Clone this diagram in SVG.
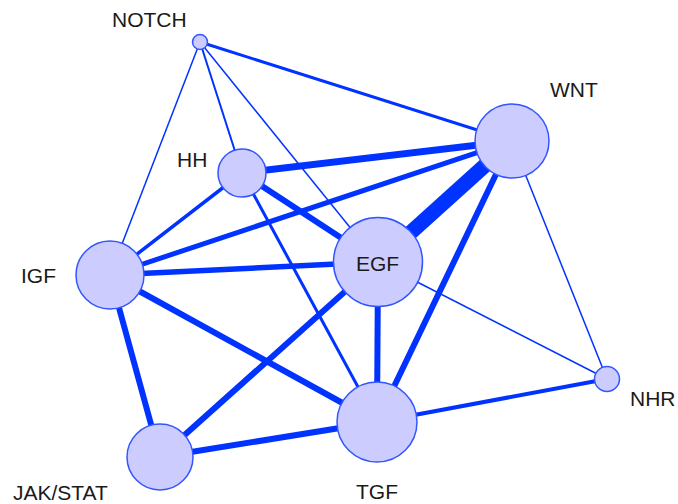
<svg xmlns="http://www.w3.org/2000/svg" width="678" height="504" viewBox="0 0 678 504">
<style>
.e{stroke:#0033ff;stroke-linecap:butt;fill:none}
.n{fill:#ccccff;stroke:#3355ff;stroke-width:1.5}
.t{font-family:"Liberation Sans",Arial,sans-serif;font-size:21px;fill:#1a1a1a}
</style>
<rect width="678" height="504" fill="#ffffff"/>
<g id="connectors">
<line class="e" x1="200" y1="42" x2="512" y2="141" stroke-width="3"/>
<line class="e" x1="200" y1="42" x2="242" y2="173" stroke-width="2"/>
<line class="e" x1="200" y1="42" x2="378" y2="262" stroke-width="1.5"/>
<line class="e" x1="200" y1="42" x2="110" y2="275" stroke-width="1.5"/>
<line class="e" x1="512" y1="141" x2="378" y2="262" stroke-width="15"/>
<line class="e" x1="512" y1="141" x2="242" y2="173" stroke-width="7"/>
<line class="e" x1="512" y1="141" x2="110" y2="275" stroke-width="5"/>
<line class="e" x1="512" y1="141" x2="377" y2="422" stroke-width="6"/>
<line class="e" x1="512" y1="141" x2="607" y2="379" stroke-width="1.5"/>
<line class="e" x1="242" y1="173" x2="378" y2="262" stroke-width="6"/>
<line class="e" x1="242" y1="173" x2="110" y2="275" stroke-width="3.5"/>
<line class="e" x1="242" y1="173" x2="377" y2="422" stroke-width="3"/>
<line class="e" x1="378" y1="262" x2="110" y2="275" stroke-width="5.5"/>
<line class="e" x1="378" y1="262" x2="377" y2="422" stroke-width="6"/>
<line class="e" x1="378" y1="262" x2="160" y2="457" stroke-width="6"/>
<line class="e" x1="378" y1="262" x2="607" y2="379" stroke-width="1.5"/>
<line class="e" x1="110" y1="275" x2="377" y2="422" stroke-width="6"/>
<line class="e" x1="110" y1="275" x2="160" y2="457" stroke-width="6"/>
<line class="e" x1="160" y1="457" x2="377" y2="422" stroke-width="6"/>
<line class="e" x1="377" y1="422" x2="607" y2="379" stroke-width="4"/>
</g>
<g id="NOTCH"><circle class="n" cx="200" cy="42" r="7.5"/><text class="t" x="112" y="27">NOTCH</text></g>
<g id="WNT"><circle class="n" cx="512" cy="141" r="37"/><text class="t" x="550" y="97">WNT</text></g>
<g id="HH"><circle class="n" cx="242" cy="173" r="24"/><text class="t" x="177" y="167">HH</text></g>
<g id="EGF"><circle class="n" cx="378" cy="262" r="44.5"/><text class="t" x="356" y="271">EGF</text></g>
<g id="IGF"><circle class="n" cx="110" cy="275" r="34"/><text class="t" x="21" y="283">IGF</text></g>
<g id="NHR"><circle class="n" cx="607" cy="379" r="12.5"/><text class="t" x="630" y="406">NHR</text></g>
<g id="JAKSTAT"><circle class="n" cx="160" cy="457" r="33"/><text class="t" x="13" y="500">JAK/STAT</text></g>
<g id="TGF"><circle class="n" cx="377" cy="422" r="40"/><text class="t" x="356" y="499">TGF</text></g>
</svg>
